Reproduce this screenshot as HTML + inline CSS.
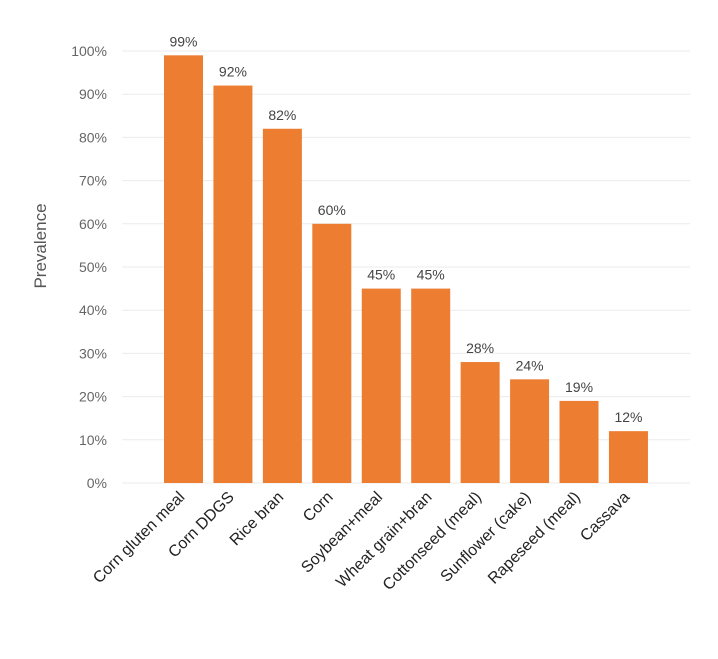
<!DOCTYPE html>
<html><head><meta charset="utf-8"><style>
body{margin:0;background:#fff;font-family:"Liberation Sans",sans-serif}
</style></head><body>
<svg id="chart" width="718" height="654" xmlns="http://www.w3.org/2000/svg">
<text x="0" y="0" transform="translate(46,246) rotate(-90)" text-anchor="middle" font-size="17" fill="#555">Prevalence</text>
<g id="grid"></g><g id="bars"></g><g id="labels"></g>
</svg>
<script>
const categories=["Corn gluten meal","Corn DDGS","Rice bran","Corn","Soybean+meal","Wheat grain+bran","Cottonseed (meal)","Sunflower (cake)","Rapeseed (meal)","Cassava"];
const values=[99,92,82,60,45,45,28,24,19,12];
const yTicks=[0,10,20,30,40,50,60,70,80,90,100];
const ns="http://www.w3.org/2000/svg";
const y0=483,y100=51,plotL=122,plotR=690,firstX=164,step=49.44,bw=39;
function y(v){return y0-(y0-y100)*v/100;}
function x(i){return firstX+i*step;}
function mk(t,a,p){const e=document.createElementNS(ns,t);for(const k in a)e.setAttribute(k,a[k]);p.appendChild(e);return e;}
const grid=document.getElementById('grid'),bars=document.getElementById('bars'),labels=document.getElementById('labels');
yTicks.forEach(t=>{
  const l=mk('line',{x1:plotL,x2:plotR,y1:y(t),y2:y(t),stroke:'#ebebeb','stroke-width':1},grid);
  
  
  const tx=mk('text',{x:107,y:y(t)+5,'text-anchor':'end','font-size':14,fill:'#666'},grid);
  tx.textContent=t+'%';
  
  
});
values.forEach((v,i)=>{
  const r=mk('rect',{x:x(i),y:y(v),width:bw,height:y0-y(v),fill:'#ed7d31'},bars);
  
  
  const vl=mk('text',{x:x(i)+bw/2,y:y(v)-9,'text-anchor':'middle','font-size':14,fill:'#444'},labels);
  vl.textContent=v+'%';
  
  
  const cx=x(i)+bw/2+2,cy=498;
  const cl=mk('text',{x:cx,y:cy,'text-anchor':'end','font-size':16,fill:'#222',transform:`rotate(-45 ${cx} ${cy})`},labels);
  cl.textContent=categories[i];
  
  
});
</script>
</body></html>
